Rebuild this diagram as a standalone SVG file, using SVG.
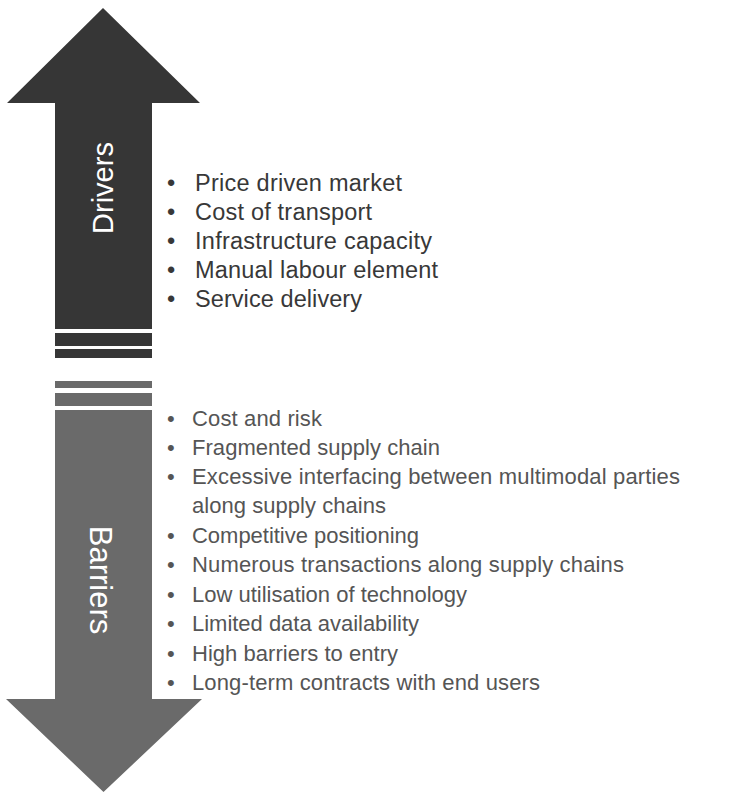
<svg xmlns="http://www.w3.org/2000/svg" width="730" height="792" viewBox="0 0 730 792">
<style>
.dark{fill:#363636}
.gray{fill:#6a6a6a}
.lab{font-family:"Liberation Sans",Arial,sans-serif;fill:#ffffff;text-anchor:middle}
.dt{font-family:"Liberation Sans",Arial,sans-serif;font-size:23.5px;fill:#383838}
.bt{font-family:"Liberation Sans",Arial,sans-serif;font-size:22px;fill:#555555}
</style>
<rect width="730" height="792" fill="#ffffff"/>
<g id="drivers-arrow">
<polygon class="dark" points="103,8 200,103 152,103 152,329 55,329 55,103 7,103"/>
<rect class="dark" x="55" y="333" width="97" height="13"/>
<rect class="dark" x="55" y="349" width="97" height="9"/>
<text class="lab" font-size="29" transform="translate(113,188) rotate(-90)">Drivers</text>
</g>
<g id="barriers-arrow">
<rect class="gray" x="55" y="381" width="97" height="7"/>
<rect class="gray" x="55" y="393" width="97" height="13"/>
<polygon class="gray" points="55,410 152,410 152,699 202,699 103.5,792 6,699 55,699"/>
<text class="lab" font-size="31" transform="translate(90,580) rotate(90)">Barriers</text>
</g>
<g id="drivers-list" class="dt">
<text x="167" y="191">•</text><text x="195" y="191" textLength="207">Price driven market</text>
<text x="167" y="220">•</text><text x="195" y="220" textLength="177">Cost of transport</text>
<text x="167" y="249">•</text><text x="195" y="249" textLength="237">Infrastructure capacity</text>
<text x="167" y="278">•</text><text x="195" y="278" textLength="243">Manual labour element</text>
<text x="167" y="307">•</text><text x="195" y="307" textLength="167">Service delivery</text>
</g>
<g id="barriers-list" class="bt">
<text x="167" y="426">•</text><text x="192" y="426" textLength="130">Cost and risk</text>
<text x="167" y="455">•</text><text x="192" y="455" textLength="248">Fragmented supply chain</text>
<text x="167" y="484">•</text><text x="192" y="484" textLength="488">Excessive interfacing between multimodal parties</text>
<text x="192" y="513" textLength="194">along supply chains</text>
<text x="167" y="543">•</text><text x="192" y="543" textLength="227">Competitive positioning</text>
<text x="167" y="572">•</text><text x="192" y="572" textLength="432">Numerous transactions along supply chains</text>
<text x="167" y="602">•</text><text x="192" y="602" textLength="275">Low utilisation of technology</text>
<text x="167" y="631">•</text><text x="192" y="631" textLength="227">Limited data availability</text>
<text x="167" y="661">•</text><text x="192" y="661" textLength="206">High barriers to entry</text>
<text x="167" y="690">•</text><text x="192" y="690" textLength="348">Long-term contracts with end users</text>
</g>
</svg>
